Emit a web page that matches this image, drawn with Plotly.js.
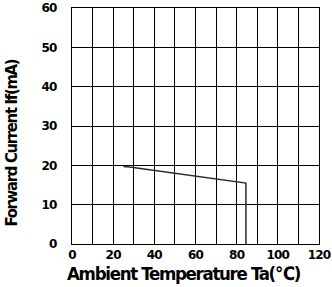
<!DOCTYPE html>
<html>
<head>
<meta charset="utf-8">
<script src="https://cdn.plot.ly/plotly-3.0.1.min.js"></script>
<style>
  html, body { margin: 0; padding: 0; background: #fff; }
  #chart { width: 332px; height: 287px; }
  .annotation-text { letter-spacing: -1.3px; }
  .xtick text, .ytick text { letter-spacing: -0.8px; }
</style>
</head>
<body>
<div id="chart"></div>
<script>
// Derating curve: Forward current vs ambient temperature
const temperature = [25, 28, 84.5, 84.5];
const forwardCurrent = [19.7, 19.6, 15.5, 0];

const xTickVals = [0, 10, 20, 30, 40, 50, 60, 70, 80, 90, 100, 110, 120];
const xTickText = ["0", "", "20", "", "40", "", "60", "", "80", "", "100", "", "120"];
const yTickVals = [0, 10, 20, 30, 40, 50, 60];
const yTickText = ["0", "10", "20", "30", "40", "50", "60"];

const xTitle = "Ambient Temperature Ta(℃)";
const yTitle = "Forward Current If(mA)";

const tickFont = { family: "DejaVu Sans, Liberation Sans, Arial", size: 12, color: "#000", weight: "bold" };
const titleFamily = "DejaVu Sans Condensed, Liberation Sans Narrow, Liberation Sans, Arial";
const xTitleFont = { family: titleFamily, size: 18.5, color: "#000", weight: "bold" };
const yTitleFont = { family: titleFamily, size: 16.5, color: "#000", weight: "bold" };

const trace = {
  x: temperature,
  y: forwardCurrent,
  type: "scatter",
  mode: "lines",
  line: { color: "#2a2a2a", width: 1.5 },
  hoverinfo: "skip",
  showlegend: false
};

const layout = {
  width: 332,
  height: 287,
  margin: { l: 72, r: 13, t: 8, b: 43 },
  paper_bgcolor: "#fff",
  plot_bgcolor: "#fff",
  xaxis: {
    range: [0, 120],
    tickmode: "array",
    tickvals: xTickVals,
    ticktext: xTickText,
    showgrid: true,
    gridcolor: "#000",
    gridwidth: 1,
    showline: true,
    linecolor: "#000",
    linewidth: 1,
    mirror: true,
    ticks: "",
    zeroline: false,
    tickfont: tickFont
  },
  yaxis: {
    range: [0, 60],
    tickmode: "array",
    tickvals: yTickVals,
    ticktext: yTickText,
    showgrid: true,
    gridcolor: "#000",
    gridwidth: 1,
    showline: true,
    linecolor: "#000",
    linewidth: 1,
    mirror: true,
    ticks: "",
    ticklabelstandoff: 12,
    zeroline: false,
    tickfont: tickFont
  },
  annotations: [
    {
      text: xTitle, xref: "paper", yref: "paper",
      x: 0.453, y: -0.123, xanchor: "center", yanchor: "middle",
      showarrow: false, font: xTitleFont
    },
    {
      text: yTitle, xref: "paper", yref: "paper",
      x: -0.243, y: 0.43, xanchor: "center", yanchor: "middle",
      textangle: -90, showarrow: false, font: yTitleFont
    }
  ]
};

Plotly.newPlot("chart", [trace], layout, { staticPlot: true, displayModeBar: false });
</script>
</body>
</html>
